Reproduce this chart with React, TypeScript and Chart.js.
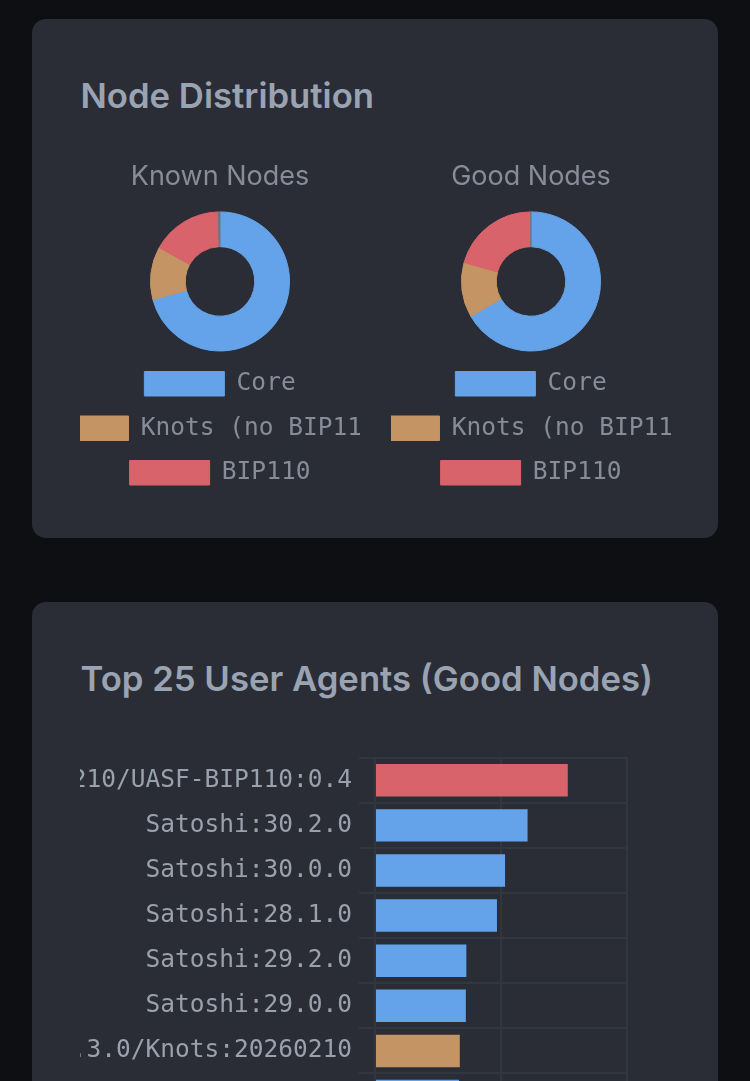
import { useEffect, useRef } from "react";
import Chart from "chart.js/auto";

const mono = "'DejaVu Sans Mono', monospace";
const sans = "Inter, 'Noto Sans', sans-serif";

const distLabels = ["Core", "Knots (no BIP110)", "BIP110", "Other"];
const distColors = ["#64a3e9", "#c49464", "#d9636a", "#6f7683"];
const knownNodes = [70.8, 12.3, 16.5, 0.4];
const goodNodes = [66.6, 12.8, 20.5, 0.1];

const agentLabels = [
  "Satoshi:29.3.0/Knots:20260210/UASF-BIP110:0.4",
  "Satoshi:30.2.0",
  "Satoshi:30.0.0",
  "Satoshi:28.1.0",
  "Satoshi:29.2.0",
  "Satoshi:29.0.0",
  "Satoshi:29.3.0/Knots:20260210",
  "Satoshi:27.0.0",
];
const agentCounts = [1530, 1211, 1032, 968, 725, 721, 673, 667];
const agentColors = [
  "#d9636a",
  "#64a3e9",
  "#64a3e9",
  "#64a3e9",
  "#64a3e9",
  "#64a3e9",
  "#c49464",
  "#64a3e9",
];

const gridColor = "#32363e";
const mutedText = "#868c98";
const tickText = "#9aa1ad";

const Doughnut = ({ title, values, left }: { title: string; values: number[]; left: number }) => {
  const ref = useRef<HTMLCanvasElement | null>(null);

  useEffect(() => {
    const chart = new Chart(ref.current!, {
      type: "doughnut",
      data: {
        labels: distLabels,
        datasets: [{ data: values, backgroundColor: distColors, borderColor: distColors, borderWidth: 1 }],
      },
      options: {
        animation: false,
        responsive: false,
        plugins: {
          title: {
            display: true,
            text: title,
            color: mutedText,
            font: { family: sans, size: 27, weight: "normal" },
            padding: { top: 0, bottom: 18 },
          },
          legend: {
            position: "bottom",
            labels: {
              boxWidth: 80,
              color: mutedText,
              padding: 20,
              font: { family: mono, size: 24.5 },
              // the "Other" sliver is drawn but never listed
              filter: (item) => item.text !== "Other",
            },
          },
        },
      },
    });
    return () => chart.destroy();
  }, []);

  return (
    <canvas
      ref={ref}
      width={280}
      height={334}
      style={{ position: "absolute", left, top: 161, width: 280, height: 334 }}
    />
  );
};

const AgentBars = () => {
  const ref = useRef<HTMLCanvasElement | null>(null);

  useEffect(() => {
    const chart = new Chart(ref.current!, {
      type: "bar",
      data: {
        labels: agentLabels,
        datasets: [{ data: agentCounts, backgroundColor: agentColors, borderWidth: 0 }],
      },
      options: {
        animation: false,
        responsive: false,
        indexAxis: "y",
        layout: { autoPadding: false, padding: { right: 43 } },
        plugins: { legend: { display: false } },
        scales: {
          x: {
            min: 0,
            max: 2000,
            grid: { color: gridColor, lineWidth: 2, tickLength: 16 },
            border: { color: gridColor, width: 2 },
            ticks: { stepSize: 1000, color: tickText, font: { family: mono, size: 24.5 } },
          },
          y: {
            // long agent strings run off the left edge of the canvas
            afterFit: (scale) => {
              scale.width = 295;
            },
            grid: { color: gridColor, lineWidth: 2, tickLength: 16 },
            border: { color: gridColor, width: 2 },
            ticks: { color: tickText, padding: 7, autoSkip: false, font: { family: mono, size: 24.5 } },
          },
        },
      },
    });
    return () => chart.destroy();
  }, []);

  return (
    <canvas
      ref={ref}
      width={590}
      height={434}
      style={{ position: "absolute", left: 80, top: 736, width: 590, height: 434 }}
    />
  );
};

const cardStyle = (top: number, height: number) =>
  ({
    position: "absolute",
    left: 32,
    top,
    width: 686,
    height,
    background: "#2a2d35",
    borderRadius: 14,
  }) as const;

const headingStyle = (top: number) =>
  ({
    position: "absolute",
    left: 80.5,
    top,
    margin: 0,
    fontFamily: sans,
    fontSize: 34.7,
    lineHeight: "40px",
    fontWeight: 600,
    color: "#9aa3b2",
    whiteSpace: "nowrap",
  }) as const;

export default function App() {
  return (
    <div
      style={{
        position: "absolute",
        left: 0,
        top: 0,
        width: 750,
        height: 1081,
        overflow: "hidden",
        background: "#0d0f12",
      }}
    >
      <div style={cardStyle(19, 519)} />
      <h2 style={headingStyle(75)}>Node Distribution</h2>
      <Doughnut title="Known Nodes" values={knownNodes} left={80} />
      <Doughnut title="Good Nodes" values={goodNodes} left={391} />

      <div style={cardStyle(602, 600)} />
      <h2 style={headingStyle(658)}>Top 25 User Agents (Good Nodes)</h2>
      <AgentBars />
    </div>
  );
}
